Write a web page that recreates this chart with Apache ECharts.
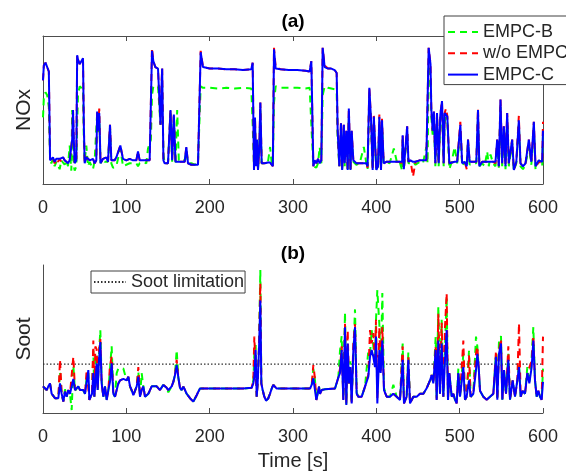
<!DOCTYPE html>
<html>
<head>
<meta charset="utf-8">
<script src="https://cdn.jsdelivr.net/npm/echarts@6/dist/echarts.min.js"></script>
<style>
html,body{margin:0;padding:0;background:#fff;}
#chart{width:566px;height:471px;}
</style>
</head>
<body>
<div id="chart"></div>
<script>
// ---------- data (y values in % of panel height, no real units on axes) ----------
const xTicks = [0, 100, 200, 300, 400, 500, 600];
const sootLimit = 33;

// (a) NOx
const noxTime = [
  0,1,3,5,7,8.5,10,12,14,16,
  18,20,22,24,26,28,30,32,34,35,
  36,37,38,40,41,42,44,46,48,49,
  50,52,54,56,58,60,62,64,65,66,
  67.5,69,72,74,76,78,80.4,82,84,86,
  88,90,92.8,96,100,104,108,112,114,116,
  120,124,126,128,129.5,130.8,132.4,134.8,138,140,
  141,142,143,144.5,146,150,153,155,157,159,
  161,163,166,170,172,174,178,182,186,188,
  189.2,192,200,210,220,230,240,250,251.6,253.2,
  254.4,255.6,256.8,258,259.6,260.8,262.4,266,270,272.5,
  274.5,275.8,277.2,279.2,285,295,305,315,320,322,
  324.4,326,328,330,332,334,335.6,338,342,346,
  350,352.4,353.6,355.6,357.6,359,361,362,364,365.6,
  367,369,370.4,372.4,376,380,385,388,389.5,391.6,
  393.6,395.6,397,400,402,403.6,405.6,406.8,408.8,412,
  416,421,425,428,431,431.6,433,437,438.5,441,
  444,447,452,456,460,461.5,462.8,465,466,467.6,
  469,470.8,472.8,474.8,476.8,478.8,480.8,482,483.6,485.2,
  487.6,490,494,497,500.8,503,506,508.5,510,512,
  516,520,522,523.6,527,530,533,535,537,540,
  543,545,547,549,551,553,555,557,559,563,
  565,568,571,573,576,579,583,586,589,591,
  595,599,600
];
const noxEMPCB = [
  45,58,62,60,52,16,14,17,12,15,
  16,10,16,15,13,16,12,26,9,50,
  30,12,9,12,40,60,66,65,64,30,
  15,26,12,15,14,10,16,15,48,35,
  45,14,17,15,16,15,38,14,11,11,
  12,11,24,12,13,14,14,14,12,14,
  15,14,24,25,30,60,66,67,66,66,
  40,60,66,20,14,14,48,15,45,14,
  50,16,17,16,22,14,14,13,14,14,
  66,65,65,64.5,65,64.5,65,64.5,40,12,
  40,12,28,10,24,50,14,14,15,25,
  14,12,55,66,65,65,65,64.5,65,40,
  12,13,11,14,25,14,60,66,65,64.5,
  64,62,30,12,36,10,36,12,32,10,
  45,10,32,15,13,14,25,14,10,58,
  40,10,40,10,12,40,10,40,14,15,
  14,24,14,15,9,30,10,35,14,14,
  15,13,15,14,25,14,80,70,45,33,
  45,12,44,12,42,50,12,42,45,42,
  10,14,25,14,36,12,15,12,28,13,
  14,14,45,12,14,12,22,12,20,14,
  12,28,11,52,12,35,10,44,12,28,
  9,14,40,12,10,13,26,13,38,10,
  16,12,33
];
const noxWoEMPC = [
  70,80,82,81,76,16,16,17,14,17,
  15,17,15,18,16,17,14,16,15,30,
  50,30,14,16,87,84,81,83,85,40,
  14,18,19,16,15,17,14,16,50,36,
  51,14,17,16,18,15,40,16,17,16,
  18,19,26,17,16,17,16,16,22,16,
  16,16,16,16,17,92,83,79,78,77,
  40,62,78,16,14,14,50,16,47,15,
  15,15,15,15,25,14,13,13,13,14,
  90,79,78,78,77.5,77.5,77,77.5,82,9.5,
  45,12,30,9.5,25,55,14,14,14.5,14.5,
  15,12,92,79,77.5,77,77,76.5,76,83,
  12,16,14,17,14,16,92,80,78,78,
  77,75,36,12,42,9.5,40,14,36,9.5,
  51,9.5,36,16,14,14,14,14,11,65,
  44,9.5,46,9.5,12,47,9.5,44,14,15,
  15,15,15,15,14,33,10,39,15,16,
  5,15,16,16,16,16,92,81,50,36,
  49,14,48,14,47,56,14,48,51,46,
  14,15,15,15,42,14,15,10,30,15,
  15,15,51,12,15,15,15,15,15,15,
  14,30,12,57,14,39,12,48,14,30,
  9.5,15,46,14,12,14,30,15,42,12,
  15,14,42
];
const noxEMPCC = [
  70,80,82,81,76,16,16,18,15,17,
  16,17,16,18,16,17,14,16,15,30,
  50,30,14,16,87,84,81,83,85,40,
  14,18,19,16,15,17,14,16,49,36,
  48,14,17,16,18,15,40,16,17,16,
  18,19,26,17,16,17,16,16,22,16,
  16,16,16,16,17,90,83,79,78,77,
  40,62,78,16,14,14,50,16,47,15,
  15,15,15,15,25,14,13,13,13,14,
  89,79,78,78,77.5,77.5,77,77.5,82,9.5,
  45,12,30,9.5,25,55,14,14,14.5,14.5,
  15,12,91,78,77.5,77,77,76.5,76,83,
  12,16,14,17,14,16,92,79,78,78,
  77,75,36,12,41,9.5,40,14,36,9.5,
  51,9.5,36,16,14,14,14,14,12,65,
  44,9.5,45.5,9.5,12,45.5,9.5,43,14,15,
  15,15,15,15,15,33,10,39,15,16,
  15,15,16,16,16,16,92,81,50,36,
  49,14,48,14,47,56,14,48,48,45.5,
  14,15,15,15,40,14,15,12,30,15,
  15,15,50,12,15,15,15,15,15,15,
  15,30,12,57,14,39,12,48,14,30,
  9.5,15,43,14,12,14,30,15,42,12,
  16,15,36
];

// (b) Soot
const sootTime = [
  0,2.4,4.4,6.4,8.4,10.4,12.4,14.4,16.4,18.4,
  20.4,22.4,24.4,26.4,28.4,30.4,32.4,34.4,36.4,38.4,
  40.4,42.4,44.4,46.4,48.4,50.4,52.4,54.4,55.6,57.2,
  58.8,60.4,61.6,62.8,64.4,65.6,67.2,68.8,70.4,72.4,
  74.4,76.4,78.4,80.4,82.4,84.4,86.4,88.4,90.4,92.4,
  96.4,100.4,102.4,104.4,106.4,108.4,110.4,112.4,114.4,116.4,
  118.4,120.4,122.4,124.4,126.4,128.4,130.4,132.4,136.4,140.4,
  144.4,148.4,150.4,154.4,156.4,158.4,160.4,162.4,164.4,166.4,
  168.4,170.4,172.4,176.4,180.4,182.4,184.4,186.4,188.4,190.4,
  200,220,240,250.4,252.4,253.6,255.2,256.4,257.6,259.2,
  260.8,262,263.6,265.6,267.6,270.4,272.4,274.4,276.4,278.4,
  280.4,300,320.4,322.4,324.4,326.4,328,329.6,331.2,332.4,
  334.4,338.4,350.4,352.4,354.4,356.4,358.4,360.4,362.4,364,
  365.6,367.2,368.8,370.4,372.4,374.4,376.4,378.4,380.4,382.4,
  386.4,388.4,390.4,392.4,394.4,396.4,398.4,399.6,401.2,403.6,
  405.2,407.2,409.2,412.4,416.4,420.4,424.4,428.4,431.6,433.2,
  436.4,438.4,440.4,444.4,448.4,452.4,456.4,460.4,464.4,466.4,
  468.4,471.2,472.4,474.4,476.4,478.4,480.4,482.4,484.4,486,
  487.6,490.4,492.4,494.4,496.4,498.4,500.4,504.4,506.4,508.4,
  511.2,513.2,516.4,519.6,521.2,522.8,524.4,528.4,532.4,536.4,
  540.4,543.6,545.2,547.2,549.6,551.2,553.2,555.6,558.4,560.4,
  563.6,566.4,569.2,571.2,573.2,575.6,578.4,581.2,583.6,586.4,
  588.4,590.4,592.4,594.4,596.4,598.4,600
];
const sootEMPCB = [
  18,17,15.5,18,20,13,12,10,11,10,
  28,13,8,16,11,15,13,2,32,15,
  14,18,15.5,16,15,13,24,27,9,8,
  13,42,11,30,40,15,40,56,22,11,
  18,9,15,30,45,13,11,27,30,31,
  30,22,24,18,15,12,13,18,28,11,
  27,18,11,10,13,15,18,17,18,15.5,
  19,17,14,18,21,26,42.6,24,17,15.5,
  17.8,15,13,10,7.7,9,12,14.4,16.5,17.8,
  16.5,16.5,16.5,17,22,40,46,11,20,45,
  96.6,20,15.5,11,8.3,10,13,16.5,19,18,
  16.5,16.5,16.5,19,30,22,9,13,17.8,13,
  15.5,16,16.5,17.8,24,42,52,10,68,6,
  45,20,35,8,40,70,14,11,10,11,
  17.8,19,42,40,56,45,35,63,83,60,
  30,81,17,11,11,19,11,9,47,7,
  11,41,7,11,11,13,13,16.7,22,25.7,
  20,51.6,9,72,13,63,11,45,78.6,9,
  27,11,13,9,7,30,11,40,9,11,
  42,11,13,51.6,45,31,15,11,9,11,
  13,40,9,49,52,9,29,13,40,9,
  22,11,22,33,11,15,13,31,20,38,
  58,22,11,15,11,9,30
];
const sootWoEMPC = [
  18,17,15.5,18,20,13,12,10,11,10,
  36,13,7.7,14.4,11,15.5,13,12,38,15.5,
  14.4,18,15.5,16.5,15.5,13,29,29,8.8,7.7,
  13,49,11,45,43,15.5,42,50,20,11,
  18,8.8,15.5,32,38,13,11,15.5,20,22,
  23,22,24.5,18,15.5,12,13,18,31,11,
  15.5,18,11,10,13,15.5,18,17,18,15.5,
  19,17,15.5,18,21,25.7,36,24,17,15.5,
  17.8,15.5,13,10,7.7,9,12,14.4,16.5,17.8,
  16.5,16.5,16.5,17,22,51.6,51.6,11,20,45,
  87.6,20,15.5,11,8.3,10,13,16.5,19,18,
  16.5,16.5,16.5,19,32.4,23,8.8,13,17.8,13,
  15.5,16,16.5,17.8,24,30,45,9,60.6,6,
  56,20,31,7,47,60,13,11,10,11,
  17.8,19,26,56,47,54,33,63,10,58,
  27,58,15.5,11,11,13,11,8.8,45,6.5,
  11,38,6.5,11,11,13,13,16.7,22,25.7,
  20,45,9,67,13,61,11,58,81,9,
  27,11,13,9,6.5,27,11,49,9,11,
  39,11,13,40,45,31,15,11,9,11,
  13,42,9,42,50,9,29,13,45,9,
  22,11,22,60.6,11,15,13,27,27,35,
  52,22,11,15,11,9,51.6
];
const sootEMPCC = [
  18,17,15.5,18,20,13,12,10,11,10,
  20,13,7.7,14.4,11,15.5,13,12,23,15.5,
  14.4,18,15.5,16.5,15.5,13,21,29,8.8,7.7,
  13,27,11,20,33.5,15.5,36,48,20,11,
  18,8.8,15.5,21,33.5,13,11,15.5,20,22,
  23,22,24.5,18,15.5,12,13,18,24.5,11,
  15.5,18,11,10,13,15.5,18,17,18,15.5,
  19,17,15.5,18,21,25.7,32.4,24,17,15.5,
  17.8,15.5,13,10,7.7,9,12,14.4,16.5,17.8,
  16.5,16.5,16.5,17,20,24.5,42.6,11,20,42.6,
  76,20,15.5,11,8.3,10,13,16.5,19,18,
  16.5,16.5,16.5,19,23.4,23,8.8,13,17.8,13,
  15.5,16,16.5,17.8,24,27,42.6,8.8,58,5.4,
  47,20,31,6.5,42,58,13,11,10,11,
  17.8,19,24.5,38,42.6,38,31,51.6,6.5,42.6,
  27,49,15.5,11,11,13,11,8.8,36,6.5,
  11,36,6.5,11,11,13,13,16.7,22,25.7,
  20,42.6,8.8,49,13,47,11,36,56,8.8,
  27,11,13,9,6.5,27,11,31,9,11,
  22,11,13,29,40,31,15,11,9,11,
  13,38,9,40,47,9,29,13,36,9,
  22,11,22,31,11,15,13,27,20,31,
  49,22,11,15,11,9,21
];

// ---------- chart ----------
const FONT = 'Liberation Sans, Arial, Helvetica, sans-serif';
const TXT = '#262626';
const AX = '#4d4d4d';
const pairs = (ts, vs) => ts.map((t, i) => [t, vs[i]]);

const baseX = (grid) => ({
  type: 'value', gridIndex: grid, min: xTicks[0], max: xTicks[xTicks.length - 1],
  interval: xTicks[1] - xTicks[0],
  axisLine: { show: true, onZero: false, lineStyle: { color: AX, width: 1 } },
  axisTick: { show: true, inside: true, length: 5, lineStyle: { color: AX } },
  axisLabel: { show: true, fontSize: 18, color: TXT, fontFamily: FONT, margin: 15 },
  splitLine: { show: false }
});

const lineSeries = (name, color, dashed, xi, yi, data, z) => ({
  name, type: 'line', xAxisIndex: xi, yAxisIndex: yi, data,
  showSymbol: false, symbol: 'none', z, animation: false,
  lineStyle: { color, width: 2, type: dashed ? [7, 5] : 'solid' },
  itemStyle: { color },
  emphasis: { disabled: true }
});

const legendCommon = {
  orient: 'vertical', backgroundColor: '#fff', borderColor: '#404040', borderWidth: 1,
  itemStyle: { opacity: 0 },
  textStyle: { fontSize: 18, color: TXT, fontFamily: FONT }, selectedMode: false
};

const option = {
  animation: false,
  backgroundColor: '#fff',
  textStyle: { fontFamily: FONT },
  title: [
    { text: '(a)', left: 293, top: 12, textAlign: 'center', padding: 0,
      textStyle: { fontSize: 19, fontWeight: 'bold', color: '#000', fontFamily: FONT } },
    { text: '(b)', left: 293, top: 244, textAlign: 'center', padding: 0,
      textStyle: { fontSize: 19, fontWeight: 'bold', color: '#000', fontFamily: FONT } }
  ],
  legend: [
    Object.assign({}, legendCommon, {
      data: ['EMPC-B', 'w/o EMPC', 'EMPC-C'], left: 444, top: 16,
      itemWidth: 30, itemHeight: 20, itemGap: 3.3, padding: [7, 8, 1, 3] }),
    Object.assign({}, legendCommon, {
      data: ['Soot limitation'], left: 91, top: 271,
      itemWidth: 32, itemHeight: 20, padding: [2, 1, 2, 2] })
  ],
  grid: [
    { left: 43, right: 23, top: 36, height: 148, containLabel: false, outerBoundsMode: 'none' },
    { left: 43, right: 23, top: 265, height: 148, containLabel: false, outerBoundsMode: 'none' }
  ],
  xAxis: [
    Object.assign(baseX(0), { position: 'bottom' }),
    Object.assign(baseX(1), { position: 'bottom', name: 'Time [s]', nameLocation: 'middle', nameGap: 38,
      nameTextStyle: { fontSize: 20, color: TXT, fontFamily: FONT } }),
    Object.assign(baseX(0), { position: 'top', axisLabel: { show: false } })
  ],
  yAxis: [
    { type: 'value', gridIndex: 0, min: 0, max: 100, position: 'left',
      axisLine: { show: true, onZero: false, lineStyle: { color: AX, width: 1 } },
      axisTick: { show: false }, axisLabel: { show: false }, splitLine: { show: false },
      name: 'NOx', nameLocation: 'middle', nameGap: 8, nameRotate: 90,
      nameTextStyle: { fontSize: 21, color: TXT, fontFamily: FONT } },
    { type: 'value', gridIndex: 0, min: 0, max: 100, position: 'right',
      axisLine: { show: true, onZero: false, lineStyle: { color: AX, width: 1 } },
      axisTick: { show: false }, axisLabel: { show: false }, splitLine: { show: false } },
    { type: 'value', gridIndex: 1, min: 0, max: 100, position: 'left',
      axisLine: { show: true, onZero: false, lineStyle: { color: AX, width: 1 } },
      axisTick: { show: false }, axisLabel: { show: false }, splitLine: { show: false },
      name: 'Soot', nameLocation: 'middle', nameGap: 8, nameRotate: 90,
      nameTextStyle: { fontSize: 21, color: TXT, fontFamily: FONT } }
  ],
  series: [
    lineSeries('EMPC-B', '#00ff00', true, 0, 0, pairs(noxTime, noxEMPCB), 2),
    lineSeries('w/o EMPC', '#ff0000', true, 0, 0, pairs(noxTime, noxWoEMPC), 3),
    lineSeries('EMPC-C', '#0000ff', false, 0, 0, pairs(noxTime, noxEMPCC), 4),
    {
      name: 'Soot limitation', type: 'line', xAxisIndex: 1, yAxisIndex: 2,
      data: [[xTicks[0], sootLimit], [xTicks[xTicks.length - 1], sootLimit]],
      showSymbol: false, symbol: 'none', z: 1, animation: false,
      lineStyle: { color: '#303030', width: 1.2, type: [1.5, 2] },
      itemStyle: { color: '#303030' }, emphasis: { disabled: true }
    },
    lineSeries('EMPC-B', '#00ff00', true, 1, 2, pairs(sootTime, sootEMPCB), 2),
    lineSeries('w/o EMPC', '#ff0000', true, 1, 2, pairs(sootTime, sootWoEMPC), 3),
    lineSeries('EMPC-C', '#0000ff', false, 1, 2, pairs(sootTime, sootEMPCC), 4)
  ]
};

const chart = echarts.init(document.getElementById('chart'), null, { renderer: 'canvas' });
chart.setOption(option);
</script>
</body>
</html>
